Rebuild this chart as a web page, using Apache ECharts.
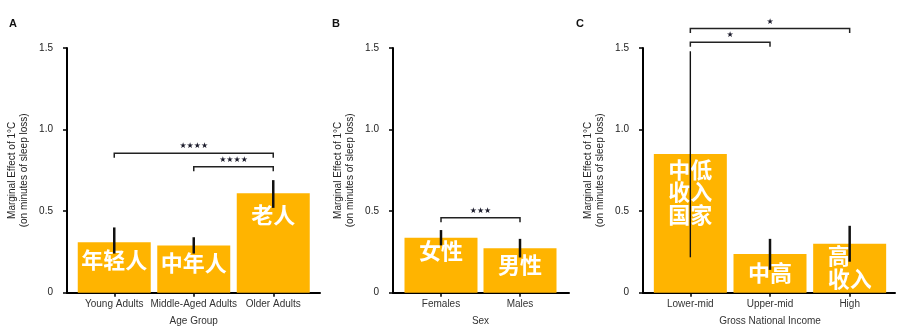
<!DOCTYPE html>
<html><head><meta charset="utf-8">
<script src="https://cdn.jsdelivr.net/npm/echarts@6/dist/echarts.min.js"></script>
<style>html,body{margin:0;padding:0;background:#fff}#c{width:920px;height:334px}</style>
</head><body><div id="c"></div>
<script>
// ---------- data ----------
const yMin = 0, yMax = 1.5, yStep = 0.5;
const yAxisName = 'Marginal Effect of 1°C\n(on minutes of sleep loss)';

const ageCats = ['Young Adults', 'Middle-Aged Adults', 'Older Adults'];
const ageVals = [0.31, 0.29, 0.61];
const ageLow  = [0.24, 0.24, 0.52];
const ageHigh = [0.40, 0.34, 0.69];
const ageZh   = ['年轻人', '中年人', '老人'];
const ageSig  = [[0, 2, 0.855, '★★★★'], [1, 2, 0.772, '★★★★']];

const sexCats = ['Females', 'Males'];
const sexVals = [0.337, 0.273];
const sexLow  = [0.29, 0.216];
const sexHigh = [0.384, 0.33];
const sexZh   = ['女性', '男性'];
const sexSig  = [[0, 1, 0.46, '★★★']];

const gniCats = ['Lower-mid', 'Upper-mid', 'High'];
const gniVals = [0.85, 0.237, 0.30];
const gniLow  = [0.217, 0.14, 0.19];
const gniHigh = [1.48, 0.33, 0.41];
const gniZh   = ['中低\n收入\n国家', '中高', '高\u3000\n收入'];
const gniSig  = [[0, 2, 1.62, '★'], [0, 1, 1.535, '★']];

const panelLetters = ['A', 'B', 'C'];
const xNames = ['Age Group', 'Sex', 'Gross National Income'];

// ---------- layout / style ----------
const TOP = 48, HEIGHT = 244.7;
const geoms = [
  {outerLeft: 67,  outerWidth: 253, innerLeft: 74.5,  innerWidth: 238.5, letterLeft: 9},
  {outerLeft: 393, outerWidth: 176, innerLeft: 401.5, innerWidth: 158,   letterLeft: 332},
  {outerLeft: 643, outerWidth: 252, innerLeft: 650.5, innerWidth: 239,   letterLeft: 576}
];
const labelGaps = [[6, 6, 10], [2, 5], [4, 7, 1]];
const errWidths = [[2.5, 2.5, 2.5], [2.5, 2.5], [1.4, 2.5, 2.5]];
const BAR_COLOR = '#FFB400';
const LATIN = 'Liberation Sans, Arial, sans-serif';
const CJK = 'Noto Sans CJK SC';

const panels = [
  {cats: ageCats, vals: ageVals, low: ageLow, high: ageHigh, zh: ageZh, sig: ageSig},
  {cats: sexCats, vals: sexVals, low: sexLow, high: sexHigh, zh: sexZh, sig: sexSig},
  {cats: gniCats, vals: gniVals, low: gniLow, high: gniHigh, zh: gniZh, sig: gniSig}
];

const option = {animation: false, title: [], grid: [], xAxis: [], yAxis: [], series: []};

panels.forEach((p, i) => {
  const g = geoms[i];
  const o = 2 * i, n = 2 * i + 1;
  option.title.push({text: panelLetters[i], left: g.letterLeft, top: 18, padding: 0,
    textStyle: {fontSize: 11, fontWeight: 'bold', color: '#111', fontFamily: LATIN}});
  option.grid.push({left: g.outerLeft, top: TOP, width: g.outerWidth, height: HEIGHT, containLabel: false});
  option.grid.push({left: g.innerLeft, top: TOP, width: g.innerWidth, height: HEIGHT, containLabel: false});

  option.xAxis.push({gridIndex: o, type: 'value', min: 0, max: 1,
    axisLine: {show: true, onZero: false, lineStyle: {color: '#000', width: 2}},
    axisTick: {show: false}, axisLabel: {show: false}, splitLine: {show: false}});
  option.xAxis.push({gridIndex: n, type: 'category', data: p.cats,
    axisLine: {show: false},
    axisTick: {show: true, alignWithLabel: true, length: 4, lineStyle: {color: '#000', width: 1.5}},
    axisLabel: {interval: 0, margin: 7, fontSize: 10, color: '#333', fontFamily: LATIN},
    name: xNames[i], nameLocation: 'middle', nameGap: 24,
    nameTextStyle: {fontSize: 10, color: '#333', fontFamily: LATIN}});

  option.yAxis.push({gridIndex: o, type: 'value', min: yMin, max: yMax, interval: yStep,
    axisLine: {show: true, onZero: false, lineStyle: {color: '#000', width: 2}},
    axisTick: {show: true, length: 4, lineStyle: {color: '#000', width: 1.5}},
    axisLabel: {margin: 14, fontSize: 10, color: '#222', fontFamily: LATIN,
      formatter: v => v === 0 ? '0' : v.toFixed(1)},
    splitLine: {show: false},
    name: yAxisName, nameLocation: 'middle', nameRotate: 90, nameGap: 37,
    nameTextStyle: {fontSize: 10, lineHeight: 12, color: '#222', fontFamily: LATIN, align: 'center'}});
  option.yAxis.push({gridIndex: n, type: 'value', min: yMin, max: yMax, interval: yStep, show: false});

  option.series.push({type: 'bar', xAxisIndex: n, yAxisIndex: n, barWidth: 73, z: 2,
    itemStyle: {color: BAR_COLOR},
    data: p.vals.map((v, j) => ({value: v, label: {distance: labelGaps[i][j]}})),
    label: {show: true, position: 'insideTop', color: '#fff', fontWeight: 'bold',
      fontSize: 22, lineHeight: 22.5, fontFamily: CJK, align: 'center',
      formatter: prm => p.zh[prm.dataIndex]}});

  option.series.push({type: 'custom', xAxisIndex: n, yAxisIndex: n, z: 10, clip: false,
    data: p.cats.map((c, j) => [j, p.low[j], p.high[j]]),
    encode: {x: 0, y: [1, 2]},
    renderItem: (params, api) => {
      const a = api.coord([api.value(0), api.value(1)]);
      const b = api.coord([api.value(0), api.value(2)]);
      return {type: 'line', shape: {x1: a[0], y1: a[1], x2: b[0], y2: b[1]},
        style: {stroke: '#111', lineWidth: errWidths[i][params.dataIndex]}};
    }});

  option.series.push({type: 'custom', xAxisIndex: n, yAxisIndex: n, z: 11, clip: false,
    data: p.sig.map(s => [s[0], s[1], s[2]]),
    encode: {x: [0, 1], y: 2},
    renderItem: (params, api) => {
      const a = api.coord([api.value(0), api.value(2)]);
      const b = api.coord([api.value(1), api.value(2)]);
      return {type: 'group', children: [
        {type: 'polyline', shape: {points: [[a[0], a[1] + 4.5], [a[0], a[1]], [b[0], b[1]], [b[0], b[1] + 4.5]]},
          style: {stroke: '#222', lineWidth: 1.5, fill: null}},
        {type: 'text', x: (a[0] + b[0]) / 2, y: a[1] - 3,
          style: {text: p.sig[params.dataIndex][3], textAlign: 'center', textVerticalAlign: 'bottom',
            fontSize: 8, fill: '#1a1a2a', fontFamily: 'DejaVu Sans'}}
      ]};
    }});
});

const chart = echarts.init(document.getElementById('c'), null, {renderer: 'canvas'});
chart.setOption(option);
</script></body></html>
